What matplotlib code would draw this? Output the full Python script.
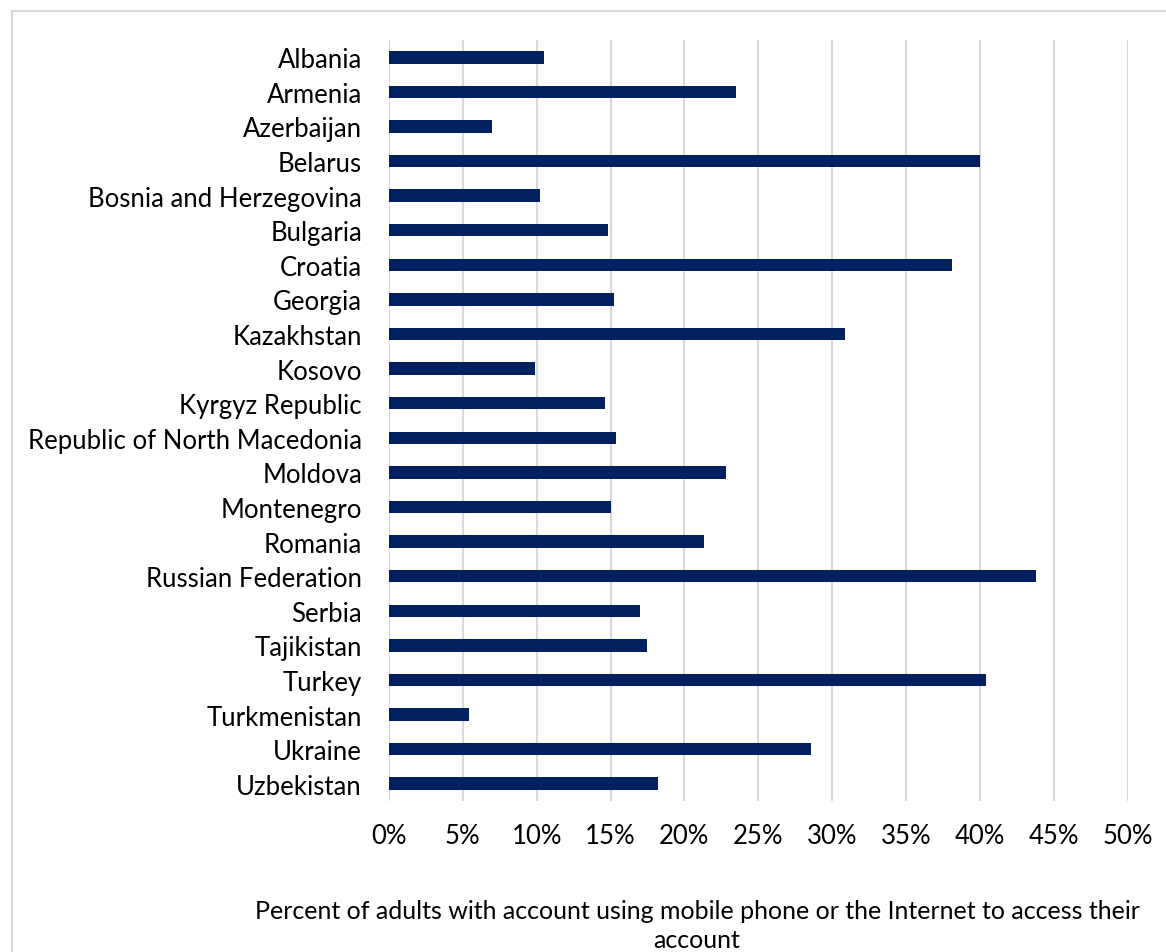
import matplotlib
matplotlib.use("Agg")
import matplotlib.pyplot as plt
from matplotlib.ticker import FuncFormatter, MultipleLocator
from matplotlib.patches import Rectangle

countries = ["Albania", "Armenia", "Azerbaijan", "Belarus", "Bosnia and Herzegovina",
             "Bulgaria", "Croatia", "Georgia", "Kazakhstan", "Kosovo", "Kyrgyz Republic",
             "Republic of North Macedonia", "Moldova", "Montenegro", "Romania",
             "Russian Federation", "Serbia", "Tajikistan", "Turkey", "Turkmenistan",
             "Ukraine", "Uzbekistan"]
values = [10.5, 23.5, 7.0, 40.0, 10.2, 14.8, 38.1, 15.2, 30.9, 9.9, 14.6,
          15.4, 22.8, 15.0, 21.3, 43.8, 17.0, 17.5, 40.4, 5.4, 28.6, 18.2]
xlabel = "Percent of adults with account using mobile phone or the Internet to access their\naccount"

plt.rcParams['font.family'] = ['Lato', 'DejaVu Sans']

fig = plt.figure(figsize=(11.66, 9.53), dpi=100)
ax = fig.add_axes([389/1166, 1-802/953, (1127.5-389)/1166, (802-41)/953])

pos = list(range(len(countries)))
ax.barh(pos, values, height=0.36, color="#002060", zorder=3)
ax.set_yticks(pos)
ax.set_yticklabels(countries, fontsize=18.5)
ax.invert_yaxis()
ax.set_ylim(len(countries)-0.5, -0.5)
ax.set_xlim(0, 50)
ax.xaxis.set_major_locator(MultipleLocator(5))
ax.xaxis.set_major_formatter(FuncFormatter(lambda v, p: f"{v:.0f}%"))
ax.tick_params(axis='x', labelsize=18.5, length=0, pad=16)
ax.tick_params(axis='y', length=0, pad=19.5)
ax.grid(axis='x', color="#d9d9d9", linewidth=1.5, zorder=0)
for s in ax.spines.values():
    s.set_visible(False)

fig.text(697/1166, 1-926/953, xlabel, ha='center', va='center', fontsize=18, linespacing=1.3)

fig.patches.append(Rectangle((12/1166, -0.1), 1.2, 1-12/953+0.1, transform=fig.transFigure,
                             fill=False, edgecolor="#d9d9d9", linewidth=1.5))

fig.savefig("out.png", dpi=100)
